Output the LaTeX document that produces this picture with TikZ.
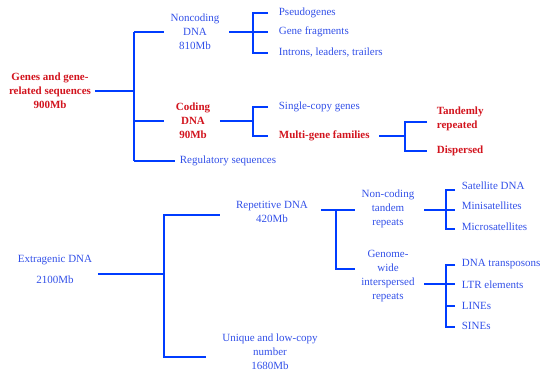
\documentclass[tikz,border=0pt]{standalone}
\usepackage{fontspec}
\setmainfont{Liberation Serif}

\definecolor{lineblue}{RGB}{0,60,255}
\definecolor{txtblue}{RGB}{50,80,232}
\definecolor{hotred}{RGB}{210,20,30}

\tikzset{
  br/.style={draw=lineblue, line width=1.8pt},
  grp/.style={align=center, text=txtblue},
  leaf/.style={anchor=west, text=txtblue},
  hot/.style={text=hotred, font=\bfseries},
  tick/.style={shorten >=7pt},
  gap/.style={shorten <=6pt}
}

\begin{document}
\fontsize{11}{14}\selectfont
\begin{tikzpicture}[x=1pt,y=-1pt]
\useasboundingbox (0,0) rectangle (543,373);

% genes and gene-related sequences
\node[grp,hot] (genes) at (50,91) {Genes and gene-\\related sequences\\900Mb};
\node[grp] (noncod) at (195,32) {Noncoding\\DNA\\810Mb};
\node[grp,hot] (coding) at (193,121) {Coding\\DNA\\90Mb};
\node[leaf] (reg) at (176,161) {Regulatory sequences};

\node[leaf] (pseudo) at (275,13) {Pseudogenes};
\node[leaf] (frag) at (275,32) {Gene fragments};
\node[leaf] (intron) at (275,53) {Introns, leaders, trailers};
\node[leaf] (single) at (275,107) {Single-copy genes};
\node[leaf,hot] (multi) at (275,136) {Multi-gene families};
\node[leaf,hot,align=left] (tandem) at (433,118.5) {Tandemly\\repeated};
\node[leaf,hot] (dispersed) at (433,151) {Dispersed};

\coordinate (jg) at (134,91);
\coordinate (jn) at (253,32);
\coordinate (jc) at (253,121);
\coordinate (jm) at (405,136);

\draw[br] (genes.east) -- (jg);
\draw[br] (jg |- noncod) -- (jg |- reg);
\draw[br,shorten >=3pt] (jg |- noncod) -- (noncod.west);
\draw[br,shorten >=8pt] (jg |- coding) -- (coding.west);
\draw[br,shorten >=1pt] (jg |- reg) -- (reg.west);

\draw[br,gap] (noncod.east) -- (jn);
\draw[br,tick,shorten <=7pt] (pseudo.west) -| (jn) |- (intron.west);
\draw[br,tick] (jn) -- (frag.west);

\draw[br,gap] (coding.east |- jc) -- (jc);
\draw[br,tick,shorten <=7pt] (single.west) -| (jc) |- (multi.west);

\draw[br,shorten <=6pt] (multi.east) -- (jm);
\draw[br,shorten <=6pt,shorten >=6pt] (tandem.west |- 0,122) -| (jm) |- (dispersed.west);

% extragenic DNA
\node[grp] (extra) at (55,269.5) {Extragenic DNA\\[7pt]2100Mb};
\node[grp] (rep) at (272,212) {Repetitive DNA\\420Mb};
\node[grp] (uniq) at (270,352) {Unique and low-copy\\number\\1680Mb};
\node[grp] (nct) at (388,209) {Non-coding\\tandem\\repeats};
\node[grp] (gwi) at (388,276) {Genome-\\wide\\interspersed\\repeats};

\node[leaf] (sat) at (458,186) {Satellite DNA};
\node[leaf] (mini) at (458,206) {Minisatellites};
\node[leaf] (micro) at (458,227) {Microsatellites};
\node[leaf] (dnat) at (458,264) {DNA transposons};
\node[leaf] (ltr) at (458,285) {LTR elements};
\node[leaf] (lines) at (458,306) {LINEs};
\node[leaf] (sines) at (458,326) {SINEs};

\coordinate (je) at (164,274);
\coordinate (jr) at (336,210);
\coordinate (jt) at (446,210);
\coordinate (ji) at (446,284);

\draw[br,shorten <=2pt] (extra.east |- je) -- (je);
\draw[br,shorten >=12pt] (je) |- (rep.west |- 0,215);
\draw[br,shorten >=12pt] (je) |- (uniq.west |- 0,357);

\draw[br,shorten <=9pt] (rep.east |- jr) -- (jr);
\draw[br,shorten >=3pt] (jr) -- (nct.west |- jr);
\draw[br,shorten >=3pt] (jr) |- (gwi.west |- 0,269);

\draw[br,gap] (nct.east |- jt) -- (jt);
\draw[br,shorten <=3pt,shorten >=3pt] (sat.west |- 0,190) -| (jt) |- (micro.west |- 0,229);
\draw[br,shorten >=3pt] (jt) -- (mini.west |- jt);

\draw[br,gap] (gwi.east |- ji) -- (ji);
\draw[br,shorten <=3pt,shorten >=3pt] (dnat.west |- 0,265) -| (ji) |- (sines.west |- 0,327);
\draw[br,shorten >=3pt] (ji) -- (ltr.west |- ji);
\draw[br,shorten >=3pt] (ji |- lines) -- (lines.west);

\end{tikzpicture}
\end{document}
